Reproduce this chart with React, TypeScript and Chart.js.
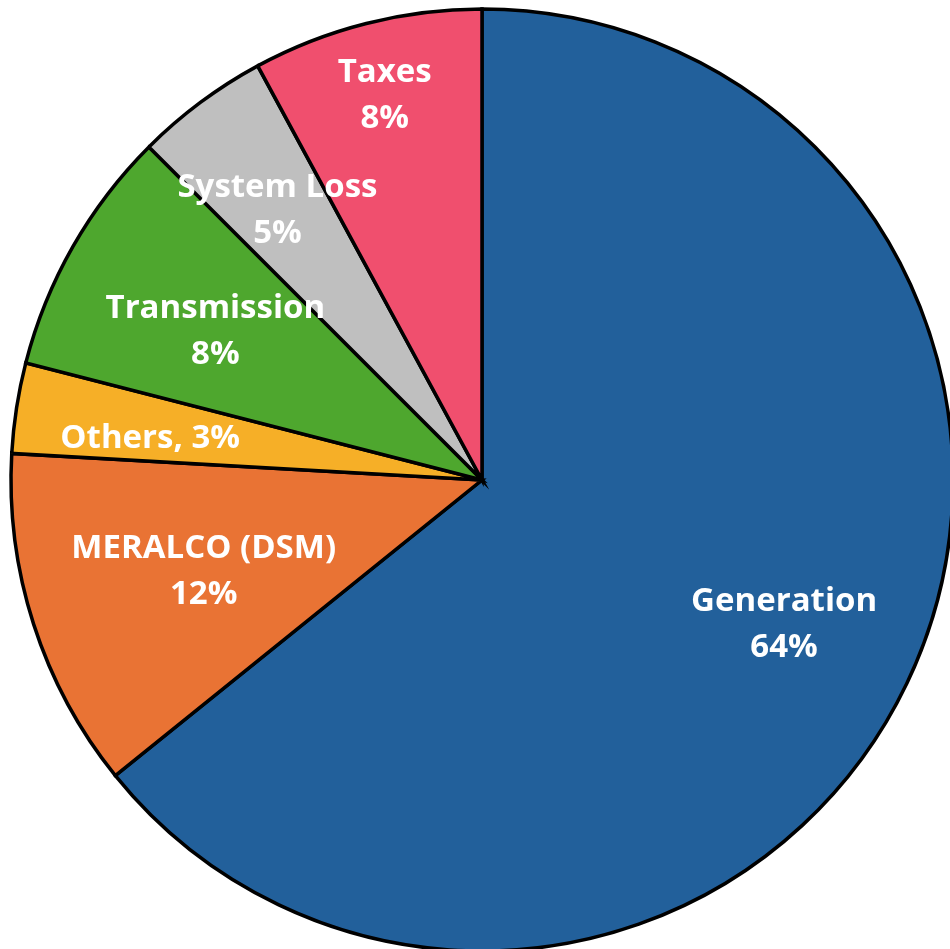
import React, { useEffect, useRef } from "react";
import { Chart, registerables } from "chart.js";

Chart.register(...registerables);

const categories = ["Generation", "MERALCO (DSM)", "Others", "Transmission", "System Loss", "Taxes"];
const shares = [64.2, 11.7, 3.1, 8.5, 4.6, 7.9];
const percentLabels = ["64%", "12%", "3%", "8%", "5%", "8%"];
const inlineLabel = [false, false, true, false, false, false];

const sliceColors = ["#22609B", "#E97334", "#F6AF27", "#4EA72E", "#BFBFBF", "#F04F6E"];
const labelRadiusFrac = [0.711, 0.622, 0.71, 0.648, 0.718, 0.841];
const labelAngleShiftDeg = [0, -0.4, -1.7, -0.6, -0.5, 0];

const labelPlugin = {
  id: "sliceLabels",
  afterDatasetsDraw(chart: any) {
    const ctx = chart.ctx;
    const meta = chart.getDatasetMeta(0);
    ctx.save();
    ctx.fillStyle = "#FFFFFF";
    ctx.font = "bold 33px 'Open Sans', sans-serif";
    ctx.textAlign = "center";
    ctx.textBaseline = "middle";
    const lineGap = 46;
    meta.data.forEach((arc: any, i: number) => {
      const { x, y, startAngle, endAngle, outerRadius } = arc.getProps(
        ["x", "y", "startAngle", "endAngle", "outerRadius"],
        true
      );
      const mid = (startAngle + endAngle) / 2 + (labelAngleShiftDeg[i] * Math.PI) / 180;
      const r = outerRadius * labelRadiusFrac[i];
      const cx = x + Math.cos(mid) * r;
      const cy = y + Math.sin(mid) * r;
      if (inlineLabel[i]) {
        ctx.fillText(`${categories[i]}, ${percentLabels[i]}`, cx, cy);
      } else {
        ctx.fillText(categories[i], cx, cy - lineGap / 2);
        ctx.fillText(percentLabels[i], cx, cy + lineGap / 2);
      }
    });
    ctx.restore();
  },
};

export default function App() {
  const canvasRef = useRef<HTMLCanvasElement | null>(null);

  useEffect(() => {
    document.body.style.margin = "0";
    const canvas = canvasRef.current;
    if (!canvas) return;
    const chart = new Chart(canvas, {
      type: "pie",
      data: {
        labels: categories,
        datasets: [
          {
            data: shares,
            backgroundColor: sliceColors,
            borderColor: "#000000",
            borderWidth: 3.5,
            borderJoinStyle: "miter",
          },
        ],
      },
      options: {
        responsive: false,
        animation: false,
        radius: 471,
        layout: { padding: { left: 14, top: 11, right: 0, bottom: 0 } },
        plugins: {
          legend: { display: false },
          tooltip: { enabled: false },
        },
      },
      plugins: [labelPlugin],
    });
    return () => chart.destroy();
  }, []);

  return (
    <div style={{ position: "fixed", left: 0, top: 0, width: 950, height: 949, background: "#FFFFFF" }}>
      <canvas ref={canvasRef} width={950} height={949} />
    </div>
  );
}
